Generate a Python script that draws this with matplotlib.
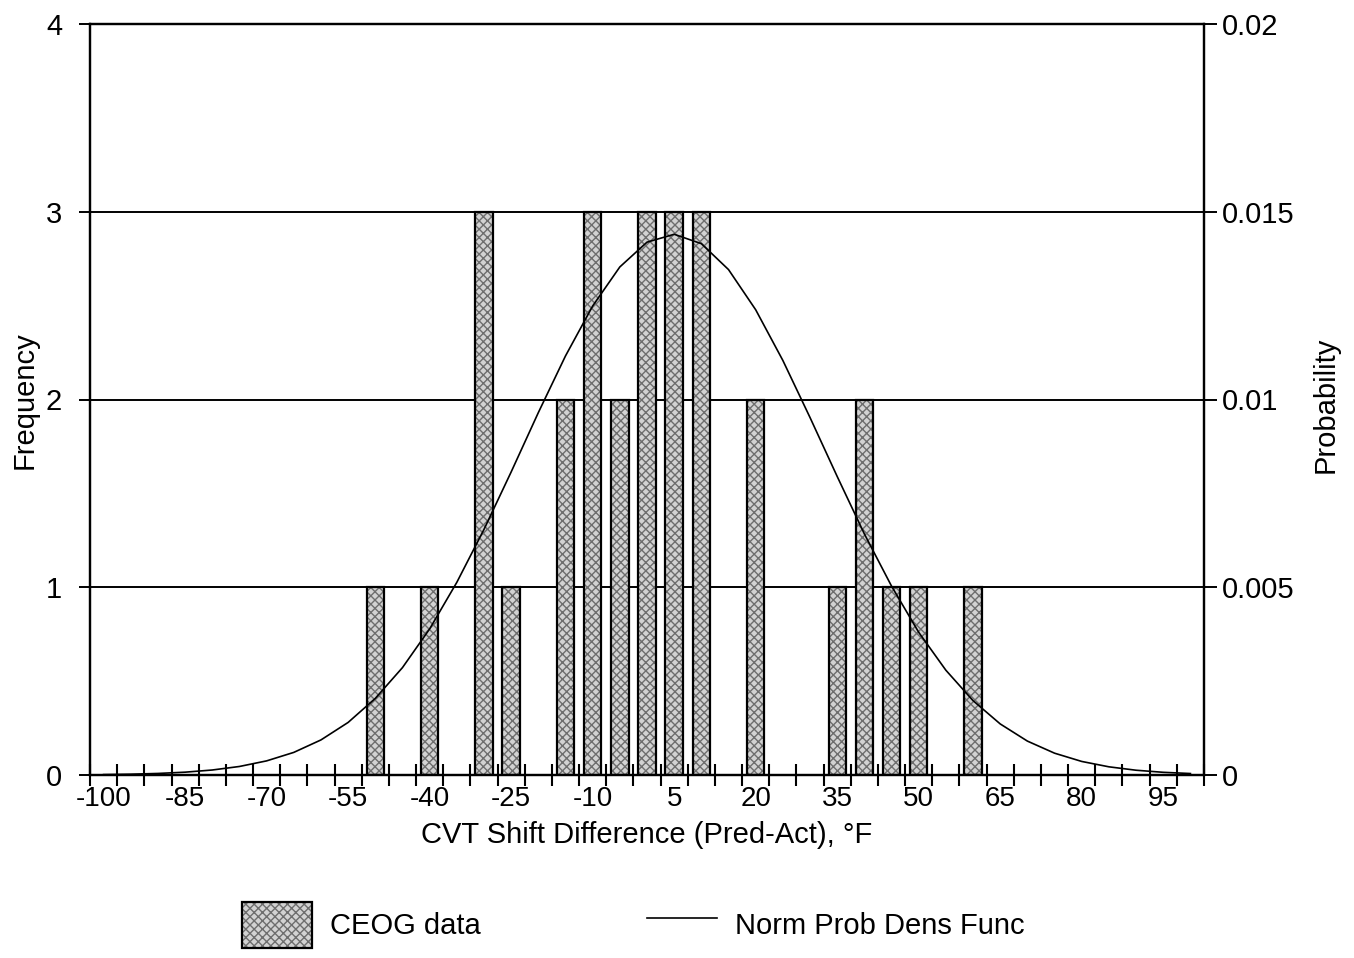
import numpy as np
import matplotlib
matplotlib.use('Agg')
import matplotlib.pyplot as plt
from matplotlib.patches import Rectangle
from matplotlib.lines import Line2D
from matplotlib.legend_handler import HandlerTuple

plt.rcParams['font.family'] = ['Liberation Sans', 'DejaVu Sans']

# ---- data ----
shift_bins = [-50, -40, -30, -25, -15, -10, -5, 0, 5, 10, 20, 35, 40, 45, 50, 60]
frequency = [1, 1, 3, 1, 2, 3, 2, 3, 3, 3, 2, 1, 2, 1, 1, 1]

pdf_x = list(range(-100, 101, 5))
pdf_y = [0.0000112, 0.0000218, 0.0000412, 0.0000752, 0.000133, 0.000227,
         0.000376, 0.000602, 0.000934, 0.00140, 0.00204, 0.00286, 0.00389,
         0.00513, 0.00654, 0.00807, 0.00965, 0.01116, 0.01249, 0.01353,
         0.01419, 0.01440, 0.01415, 0.01346, 0.01239, 0.01104, 0.00952,
         0.00795, 0.00642, 0.00503, 0.00380, 0.00279, 0.00198, 0.00136,
         0.000903, 0.000581, 0.000361, 0.000218, 0.000127, 0.0000717, 0.0000392]

x_tick_labels = [-100, -85, -70, -55, -40, -25, -10, 5, 20, 35, 50, 65, 80, 95]
freq_ticks = [0, 1, 2, 3, 4]
prob_ticks = [0, 0.005, 0.01, 0.015, 0.02]
prob_tick_labels = ['0', '0.005', '0.01', '0.015', '0.02']

FS = 21
W, H = 1354, 958
fig = plt.figure(figsize=(W / 100, H / 100), dpi=100)
left, right, top, bottom = 90, 1204, 24, 775
ax = fig.add_axes([left / W, 1 - bottom / H, (right - left) / W, (bottom - top) / H])

step = pdf_x[1] - pdf_x[0]
ax.set_xlim(pdf_x[0] - step / 2, pdf_x[-1] + step / 2)
ax.set_ylim(freq_ticks[0], freq_ticks[-1])

ax.set_axisbelow(True)
ax.yaxis.grid(True, color='black', linewidth=1.4)

bar_w = 3.2
fill_col, hatch_col = '#d2d2d2', '#6e6e6e'
bars_fill = ax.bar(shift_bins, frequency, width=bar_w, color=fill_col,
                   edgecolor=hatch_col, linewidth=0, hatch='xxxx', zorder=2)
bars_edge = ax.bar(shift_bins, frequency, width=bar_w, fill=False,
                   edgecolor='black', linewidth=1.6, zorder=3)

ax.set_xticks(x_tick_labels)
ax.set_xticklabels([str(v) for v in x_tick_labels])
ax.set_xticks(np.arange(pdf_x[0] - step / 2, pdf_x[-1] + step, step), minor=True)
ax.tick_params(axis='x', which='major', length=0, pad=8, labelsize=20)
ax.tick_params(axis='x', which='minor', direction='inout', length=16, width=1.5)

ax.set_yticks(freq_ticks)
ax.tick_params(axis='y', direction='out', length=8, width=1.4, pad=12, labelsize=FS)
for s in ax.spines.values():
    s.set_linewidth(1.6)
    s.set_color('black')

ax2 = ax.twinx()
ax2.set_ylim(prob_ticks[0], prob_ticks[-1])
ax2.set_yticks(prob_ticks)
ax2.set_yticklabels(prob_tick_labels)
ax2.tick_params(axis='y', direction='out', length=9, width=1.4, pad=4, labelsize=FS)
for s in ax2.spines.values():
    s.set_linewidth(1.6)
ax2.plot(pdf_x, pdf_y, color='black', linewidth=1.2, zorder=5)

fig.text(25 / W, 1 - 400 / H, 'Frequency', rotation=90, ha='center', va='center', fontsize=FS)
fig.text(1326 / W, 1 - 405 / H, 'Probability', rotation=90, ha='center', va='center', fontsize=FS)
fig.text((left + right) / 2 / W, 1 - 843 / H, 'CVT Shift Difference (Pred-Act), °F',
         ha='center', va='baseline', fontsize=FS)

p_fill = Rectangle((0, 0), 1, 1, facecolor=fill_col, edgecolor=hatch_col, hatch='xxxx', linewidth=0)
p_edge = Rectangle((0, 0), 1, 1, fill=False, edgecolor='black', linewidth=1.6)
l_pdf = Line2D([], [], color='black', linewidth=1.2)
fig.legend([(p_fill, p_edge), l_pdf], ['CEOG data', 'Norm Prob Dens Func'],
           handler_map={tuple: HandlerTuple(ndivide=1)},
           loc='center left', bbox_to_anchor=(242 / W, 1 - 925 / H),
           frameon=False, ncol=2, fontsize=FS, handlelength=2.4, handleheight=2.05,
           handletextpad=0.62, columnspacing=5.7, borderpad=0, borderaxespad=0)

fig.savefig('out.png', dpi=100)
